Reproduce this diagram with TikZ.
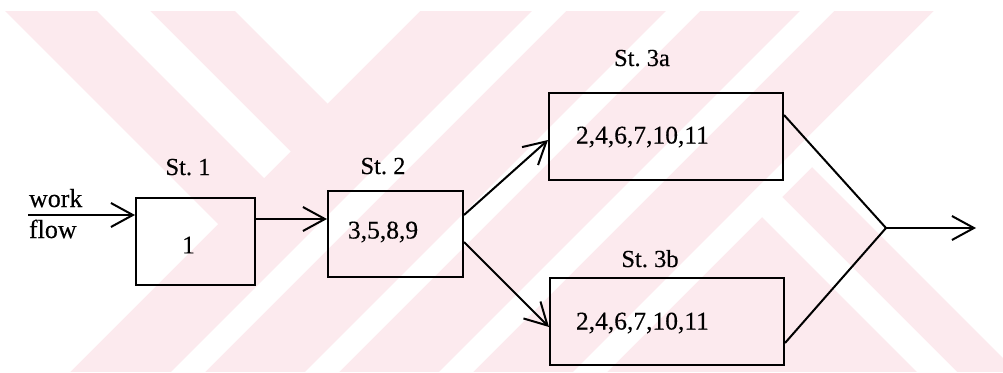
\documentclass[tikz,border=0pt]{standalone}
\usepackage{fontspec}
\setmainfont{Liberation Serif}[FakeBold=0.3]
\usetikzlibrary{arrows.meta,calc}
\definecolor{wmpink}{RGB}{252,234,238}
\tikzset{feed/.style={-{Straight Barb[length=22pt,width=24pt]}},
  stn/.style={draw, minimum height=87pt, inner sep=0pt},
  tag/.style={font=\fontsize{24.5}{28}\selectfont, inner sep=0pt, anchor=base},
  ops/.style={font=\fontsize{25.5}{30}\selectfont, inner sep=0pt}}

\begin{document}
\begin{tikzpicture}[x=1pt, y=-1pt, line width=2pt]
  \useasboundingbox (0,0) rectangle (1003,372);
  % pale stripes behind the chart
  \fill[wmpink] (0,11) rectangle (1003,372);
  \begin{scope}
    \clip (0,11) rectangle (1003,372);
    \fill[white] (218,224) -- (-100,-94) -- (-100,542) -- cycle;
    \fill[white] (264,178) -- (290.5,151.5) -- (39,-100) -- (-14,-100) -- cycle;
    \fill[white] (327.5,103.5) -- (124,-100) -- (531,-100) -- cycle;
    \foreach \c in {543,677,811,945}
      \fill[white] (\c+100,-100) -- (\c+134,-100) -- (\c-466,500) -- (\c-500,500) -- cycle;
    \fill[white] (795,150) -- (1400,755) -- (1400,-100) -- (1045,-100) -- cycle;
    \fill[white] (745,200) -- (765,180) -- (1265,680) -- (1245,700) -- cycle;
  \end{scope}

  % stations
  \node[stn, minimum width=119pt] (st1) at (195.5,241.5) {};
  \node[stn, minimum width=135pt, minimum height=86pt] (st2) at (395.5,234) {};
  \node[stn, minimum width=234pt] (st3a) at (666,136.5) {};
  \node[stn, minimum width=234pt] (st3b) at (667,321.5) {};

  \node[tag] (t1) at ($(st1.north)+(-7.5,-22)$) {St.\ 1};
  \node[tag] (t2) at ($(st2.north)+(-12.5,-16)$) {St.\ 2};
  \node[tag] (t3a) at ($(st3a.north)+(-24,-26)$) {St.\ 3a};
  \node[tag] (t3b) at ($(st3b.north)+(-17,-10)$) {St.\ 3b};

  \node[ops] (n1) at ($(st1.center)+(-7,3.5)$) {1};
  \node[ops, anchor=west] (n2) at ($(st2.west)+(20,-2)$) {3,5,8,9};
  \node[ops, anchor=west] (n3a) at ($(st3a.west)+(27,0.5)$) {2,4,6,7,10,11};
  \node[ops, anchor=west] (n3b) at ($(st3b.west)+(26,1.5)$) {2,4,6,7,10,11};

  % incoming work
  \coordinate (src) at (28,215);
  \draw[feed] (src) -- (src -| st1.west);
  \node[tag, anchor=base west, font=\fontsize{26}{30}\selectfont] (wk) at ($(src)+(0,-8)$) {work};
  \node[tag, anchor=base west, font=\fontsize{26}{30}\selectfont] (fl) at ($(src)+(0,23)$) {flow};

  \draw[feed] ($(st1.east)+(0,-22.5)$) -- ($(st2.west)+(0,-15)$);
  \draw[feed] ($(st2.east)+(0,-19)$) -- ($(st3a.west)+(0,3.5)$);
  \draw[feed] ($(st2.east)+(0,8)$) -- ($(st3b.west)+(0,5.5)$);

  % parallel stations merge
  \coordinate (join) at (886,228);
  \coordinate (sink) at (976,228);
  \draw ($(st3a.east)+(0,-21.5)$) -- (join) -- ($(st3b.east)+(0,21.5)$);
  \draw[feed] (join) -- (sink);
\end{tikzpicture}
\end{document}
